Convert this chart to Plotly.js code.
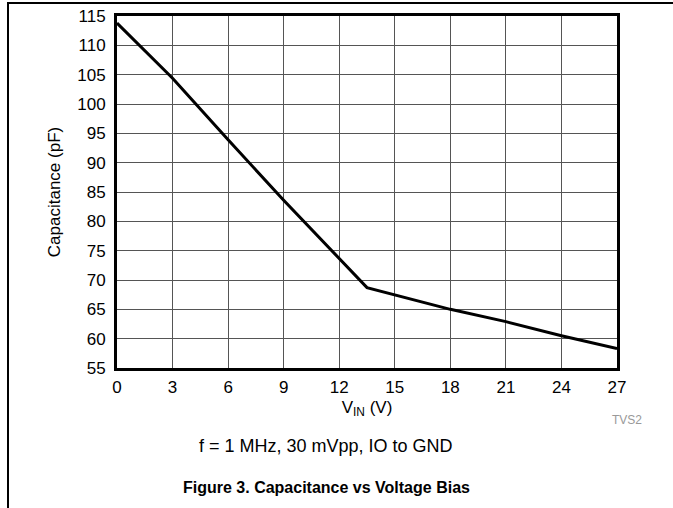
<!DOCTYPE html>
<html>
<head>
<meta charset="utf-8">
<script src="https://cdn.plot.ly/plotly-3.0.1.min.js"></script>
<style>
html,body{margin:0;padding:0;background:#fff;}
#wrap{position:relative;width:673px;height:508px;}
#chart{width:673px;height:508px;}
#frame{position:absolute;left:7px;top:2px;width:666px;height:506px;border-left:2px solid #000;border-top:2px solid #000;pointer-events:none;box-sizing:border-box;}
</style>
</head>
<body>
<div id="wrap"><div id="chart"></div><div id="frame"></div></div>
<script>
// Data
const vin = [0, 3, 6, 9, 13.5, 18, 21, 24, 27];
const capacitance = [113.8, 104.4, 93.9, 83.6, 68.7, 65.0, 62.9, 60.5, 58.3];
const xTicks = [0, 3, 6, 9, 12, 15, 18, 21, 24, 27];
const yTicks = [55, 60, 65, 70, 75, 80, 85, 90, 95, 100, 105, 110, 115];

const FONT = 'Liberation Sans, Arial, sans-serif';

const trace = {
  x: vin, y: capacitance, type: 'scatter', mode: 'lines',
  line: {color: '#000', width: 3}, hoverinfo: 'skip', showlegend: false
};

const layout = {
  width: 673, height: 508,
  margin: {l: 117, r: 56, t: 16, b: 140},
  paper_bgcolor: '#fff', plot_bgcolor: '#fff',
  font: {family: FONT, color: '#000', size: 17},
  xaxis: {
    range: [0, 27], tickvals: xTicks, ticktext: xTicks.map(String),
    showgrid: true, gridcolor: '#555', gridwidth: 1,
    showline: true, linecolor: '#000', linewidth: 3, mirror: true,
    zeroline: false, ticks: '', ticklabelstandoff: 2, tickfont: {size: 17, family: FONT},
    title: {text: 'V<sub>IN</sub> (V)', font: {size: 17, family: FONT}, standoff: 5}
  },
  yaxis: {
    range: [55, 115], tickvals: yTicks, ticktext: yTicks.map(String),
    showgrid: true, gridcolor: '#555', gridwidth: 1,
    showline: true, linecolor: '#000', linewidth: 3, mirror: true,
    zeroline: false, ticks: '', ticklabelstandoff: 5, tickfont: {size: 17, family: FONT},
    title: {text: 'Capacitance (pF)', font: {size: 17, family: FONT}, standoff: 13}
  },
  annotations: [
    {text: 'TVS2', xref: 'paper', yref: 'paper', x: (627 - 117) / 500, y: (368 - 420) / 352,
     showarrow: false, xanchor: 'center', yanchor: 'middle', font: {size: 12, color: '#999', family: FONT}},
    {text: 'f = 1 MHz, 30 mVpp, IO to GND', xref: 'paper', yref: 'paper', x: (326 - 117) / 500, y: (368 - 446) / 352,
     showarrow: false, xanchor: 'center', yanchor: 'middle', font: {size: 18, color: '#000', family: FONT}},
    {text: '<b>Figure 3. Capacitance vs Voltage Bias</b>', xref: 'paper', yref: 'paper', x: (326 - 117) / 500, y: (368 - 487) / 352,
     showarrow: false, xanchor: 'center', yanchor: 'middle', font: {size: 16, color: '#000', family: FONT}}
  ]
};

Plotly.newPlot('chart', [trace], layout, {displayModeBar: false, staticPlot: true});
</script>
</body>
</html>
